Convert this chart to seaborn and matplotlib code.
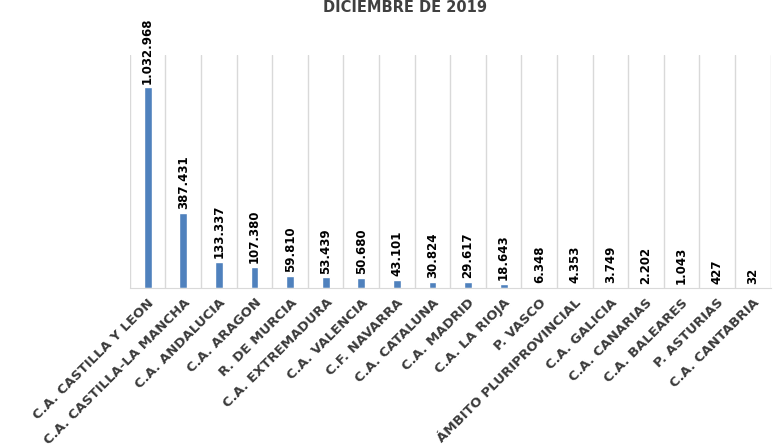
import numpy as np
import pandas as pd
import matplotlib
matplotlib.use("Agg")
import matplotlib.pyplot as plt
import seaborn as sns

# Data
regions = ['C.A. CASTILLA Y LEON', 'C.A. CASTILLA-LA MANCHA', 'C.A. ANDALUCIA',
           'C.A. ARAGON', 'R. DE MURCIA', 'C.A. EXTREMADURA', 'C.A. VALENCIA',
           'C.F. NAVARRA', 'C.A. CATALUNA', 'C.A. MADRID', 'C.A. LA RIOJA',
           'P. VASCO', 'ÁMBITO PLURIPROVINCIAL', 'C.A. GALICIA', 'C.A. CANARIAS',
           'C.A. BALEARES', 'P. ASTURIAS', 'C.A. CANTABRIA']
values = [1032968, 387431, 133337, 107380, 59810, 53439, 50680, 43101, 30824,
          29617, 18643, 6348, 4353, 3749, 2202, 1043, 427, 32]
title = 'DICIEMBRE DE 2019'

df = pd.DataFrame({'region': regions, 'value': values})

sns.set_style('white')
plt.rcParams['font.family'] = ['DejaVu Sans']

fig = plt.figure(figsize=(7.73, 4.47), dpi=100)
ax = fig.add_axes([0.168, 0.356, 0.829, 0.521])

sns.barplot(data=df, x='region', y='value', order=regions, color='#4F81BD',
            width=0.22, saturation=1, ax=ax)

# value labels, rotated
for i, v in enumerate(values):
    ax.text(i, v + 20000, f"{v:,}".replace(',', '.'), rotation=90,
            ha='center', va='bottom', fontsize=8.5, fontweight='bold',
            color='black')

ax.set_xlim(-0.5, len(regions) - 0.5)
ax.set_ylim(0, 1.2e6)
ax.set_xlabel('')
ax.set_ylabel('')
ax.set_yticks([])

ax.set_xticks(range(len(regions)))
ax.set_xticklabels(regions, rotation=45, ha='right', rotation_mode='anchor',
                   fontsize=9.5, fontweight='bold', color='#3a3a3a')
ax.tick_params(axis='x', length=0, pad=6)

# vertical gridlines between categories
ax.set_xticks(np.arange(-0.5, len(regions)), minor=True)
ax.tick_params(axis='x', which='minor', length=0)
ax.grid(which='minor', axis='x', color='#d9d9d9', linewidth=1)
ax.set_axisbelow(True)

for s in ['top', 'right', 'left']:
    ax.spines[s].set_visible(False)
ax.spines['bottom'].set_color('#d9d9d9')

fig.text(0.524, 0.999, title, ha='center', va='top', fontsize=10.5,
         fontweight='bold', color='#404040')

fig.savefig('out.png', dpi=100)
